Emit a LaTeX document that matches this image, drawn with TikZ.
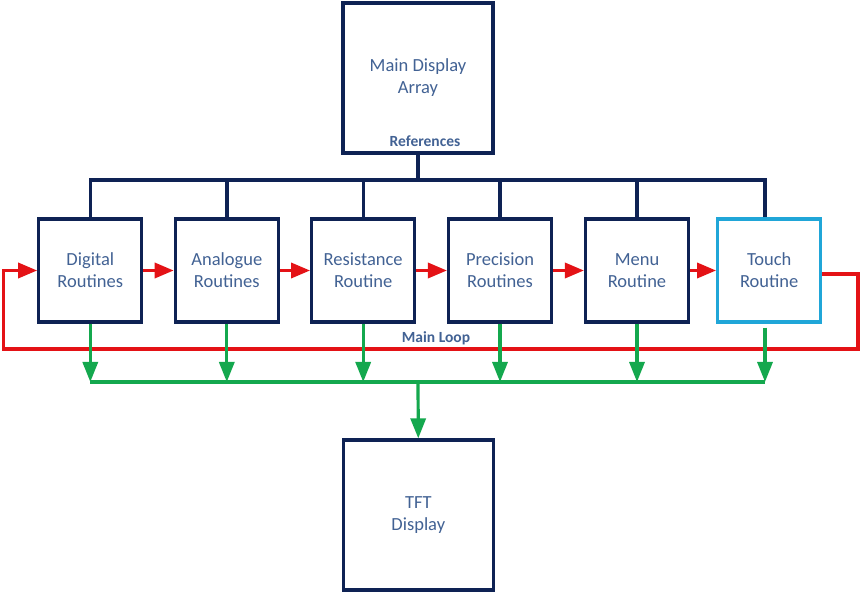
\documentclass[tikz,border=0pt]{standalone}
\usepackage{fontspec}
\setmainfont{Carlito}
\usetikzlibrary{arrows.meta}
\definecolor{navy}{RGB}{14,34,84}
\definecolor{txtblue}{RGB}{66,98,148}
\definecolor{lred}{RGB}{228,18,22}
\definecolor{lgreen}{RGB}{20,168,78}
\definecolor{lcyan}{RGB}{32,166,216}
\begin{document}
\begin{tikzpicture}[x=1pt,y=-1pt,
  box/.style={draw=navy, line width=3.2pt, fill=white, minimum width=103pt, minimum height=103pt,
    inner sep=0pt, align=center, text=txtblue, font=\fontsize{18.5}{22}\selectfont},
  bigbox/.style={box, minimum width=150pt, minimum height=150pt},
  lbl/.style={text=txtblue, font=\fontsize{15.5}{18}\selectfont\bfseries, inner sep=0pt},
  navyline/.style={draw=navy, line width=3.4pt},
  rarrow/.style={draw=lred, line width=3.4pt, -{Triangle[length=19pt,width=15pt]}},
  rline/.style={draw=lred, line width=3.4pt},
  garrow/.style={draw=lgreen, line width=3.2pt, -{Triangle[length=20pt,width=15pt]}},
  gline/.style={draw=lgreen, line width=3.2pt}
]
\useasboundingbox (0,0) rectangle (862,593);
\fill[white] (0,0) rectangle (862,593);

\node[bigbox] (m) at (418,78) {Main Display\\Array};
\node[bigbox] (tft) at (418.3,515) {TFT\\Display};

\node[box] (d) at (90.3,270.5) {Digital\\Routines};
\node[box] (a) at (226.8,270.5) {Analogue\\Routines};
\node[box] (r) at (363.2,270.5) {Resistance\\Routine};
\node[box] (p) at (500,270.5) {Precision\\Routines};
\node[box] (mn) at (637,270.5) {Menu\\Routine};
\node[box, draw=lcyan] (t) at (769.2,270.5) {Touch\\Routine};

\node[lbl] (ref) at (425,141) {References};
\node[lbl] (ml) at (436,338) {Main Loop};

% navy reference bus
\coordinate (busR) at (765,180);
\draw[navyline] (m.south) -- (m.south |- busR);
\draw[navyline] (d.north) |- (busR) -- (busR |- t.north);
\foreach \n in {a,r,p,mn} \draw[navyline] (\n.north) -- (\n.north |- busR);

% red main loop
\draw[rarrow] (d.east) -- (a.west);
\draw[rarrow] (a.east) -- (r.west);
\draw[rarrow] (r.east) -- (p.west);
\draw[rarrow] (p.east) -- (mn.west);
\draw[rarrow] (mn.east) -- (t.west);
\coordinate (lr) at (858,349);
\coordinate (ll) at (3.5,349);
\draw[rarrow, line join=miter] ([yshift=-3.5pt]t.east) -| (lr) -- (ll) |- (d.west);

% green output bus
\coordinate (gR) at (765,382);
\draw[gline] (d.south |- gR) -- (gR);
\foreach \n in {d,a,r,p,mn} \draw[garrow] (\n.south) -- (\n.south |- gR);
\draw[garrow] ([yshift=-4pt]t.south -| gR) -- (gR);
\draw[garrow] (m.south |- gR) -- (tft.north);
\end{tikzpicture}
\end{document}
